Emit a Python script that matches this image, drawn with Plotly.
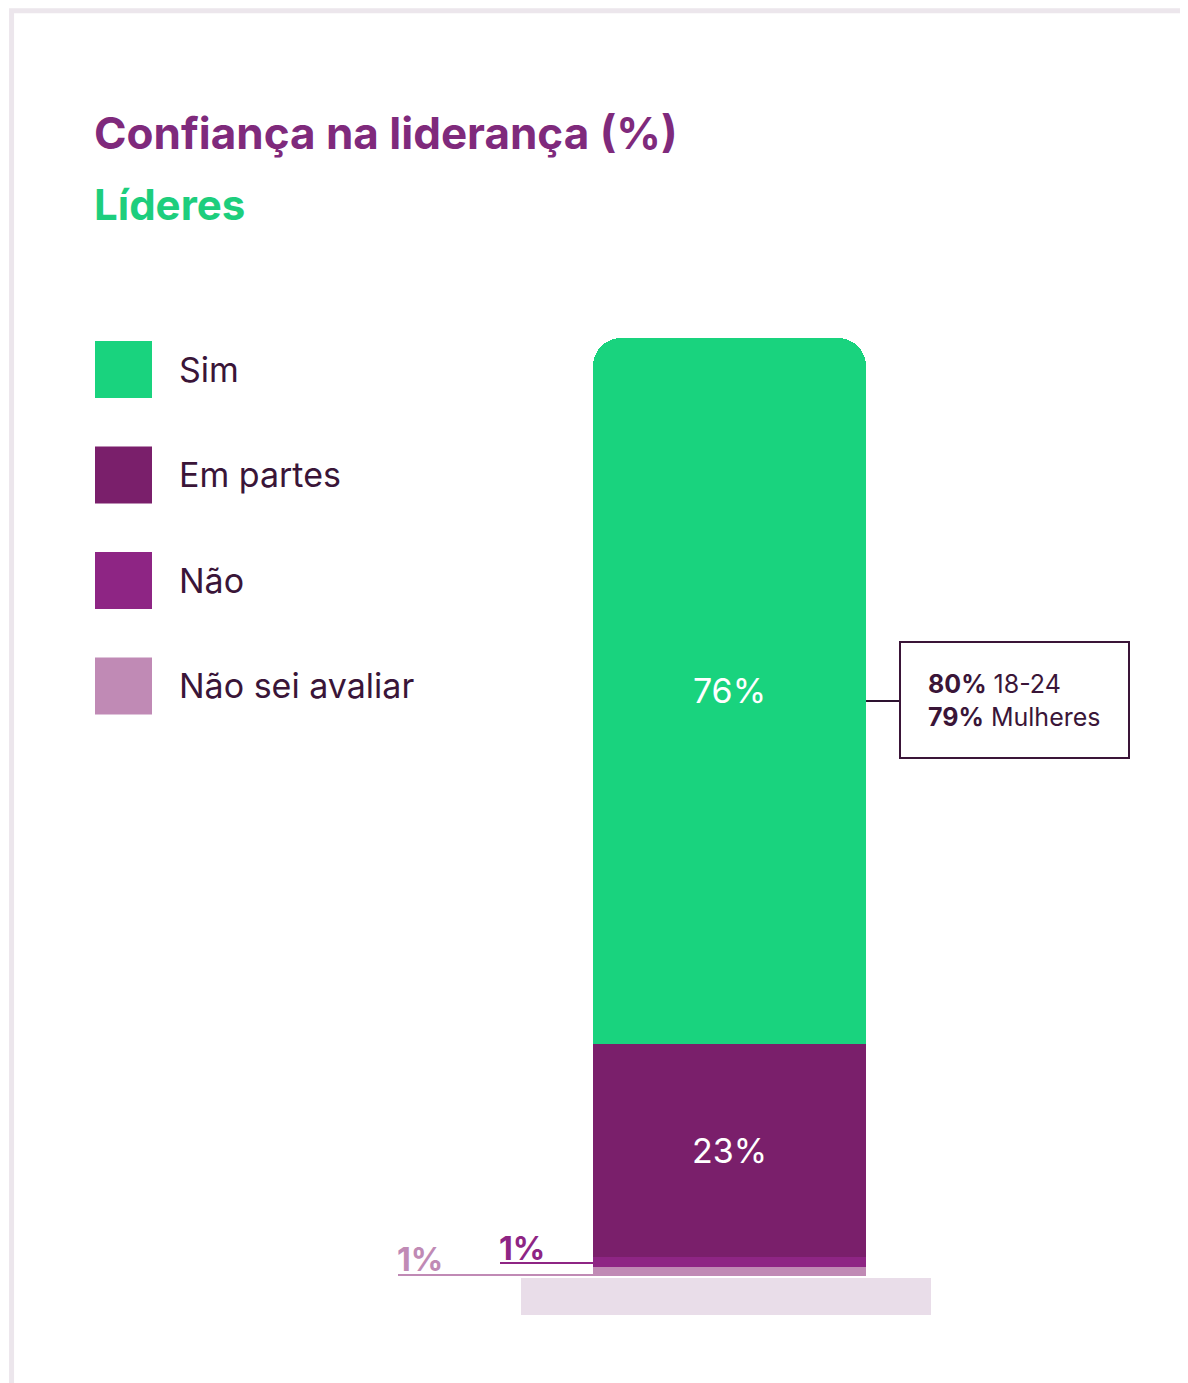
import plotly.graph_objects as go

categories = ["Não sei avaliar", "Não", "Em partes", "Sim"]
values = [1, 1, 23, 76]
colors = ["#c08ab5", "#8e2584", "#7a1f6b", "#19d37e"]
legend_order = ["Sim", "Em partes", "Não", "Não sei avaliar"]
callout = ["<b>80%</b> 18-24", "<b>79%</b> Mulheres"]

W, H = 1188, 1383
BAR_BOTTOM, BAR_TOP = 1268, 330
scale = (BAR_BOTTOM - BAR_TOP) / sum(values)
y_lo = -(H - BAR_BOTTOM) / scale
y_hi = BAR_BOTTOM / scale
FONT = "Inter"

fig = go.Figure()
for cat, val, col in zip(categories, values, colors):
    big = val > 5
    fig.add_bar(x=[721.5], y=[val], width=273, name=cat, marker_color=col,
                marker_line_width=0,
                text=[f"{val}%"] if big else None, textposition="inside",
                insidetextanchor="middle",
                textfont=dict(color="white", size=34, family=FONT))

def py(p):
    return (BAR_BOTTOM - p) / scale

shapes = [
    dict(type="rect", xref="paper", yref="paper", x0=0.003, x1=0.997, y0=0.002, y1=0.998,
         line=dict(color="#ece6ec", width=5), layer="below"),
    dict(type="rect", x0=513, x1=923, y0=py(1270), y1=py(1307), fillcolor="#e9dde9",
         line_width=0, layer="below"),
    dict(type="line", x0=858, x1=892, y0=py(693), y1=py(693), line=dict(color="#2d1230", width=2)),
    dict(type="rect", x0=892, x1=1121, y0=py(634), y1=py(750), line=dict(color="#3a1538", width=2)),
    dict(type="line", x0=492, x1=585, y0=py(1255), y1=py(1255), line=dict(color="#8e2584", width=2)),
    dict(type="line", x0=390, x1=585, y0=py(1267), y1=py(1267), line=dict(color="#c08ab5", width=2)),
]
annotations = [
    dict(text="<b>Confiança na liderança (%)</b>", x=84, y=py(125), xanchor="left", yanchor="middle",
         showarrow=False, font=dict(size=44, color="#7f2a7c", family=FONT)),
    dict(text="<b>Líderes</b>", x=84, y=py(196), xanchor="left", yanchor="middle",
         showarrow=False, font=dict(size=42, color="#1dce7d", family=FONT)),
    dict(text="<br>".join(callout), x=918, y=py(692), xanchor="left", yanchor="middle", align="left",
         showarrow=False, font=dict(size=25, color="#3a1538", family=FONT)),
    dict(text="<b>1%</b>", x=514, y=py(1240), showarrow=False,
         font=dict(size=32, color="#8e2584", family=FONT)),
    dict(text="<b>1%</b>", x=412, y=py(1251), showarrow=False,
         font=dict(size=32, color="#c08ab5", family=FONT)),
]
col_map = dict(zip(categories, colors))
for i, name in enumerate(legend_order):
    top = 333 + i * 105.5
    shapes.append(dict(type="rect", x0=87, x1=144, y0=py(top), y1=py(top + 57),
                       fillcolor=col_map[name], line_width=0))
    annotations.append(dict(text=name, x=169, y=py(top + 28), xanchor="left", yanchor="middle",
                            showarrow=False, font=dict(size=34, color="#3a1538", family=FONT)))

fig.update_layout(
    width=W, height=H, barmode="stack", barcornerradius=28, showlegend=False,
    margin=dict(l=0, r=0, t=0, b=0), paper_bgcolor="white", plot_bgcolor="white",
    xaxis=dict(range=[0, W], visible=False, fixedrange=True),
    yaxis=dict(range=[y_lo, y_hi], visible=False, fixedrange=True),
    shapes=shapes, annotations=annotations, uniformtext=dict(mode="show", minsize=10),
)
fig.write_html("out.html")
